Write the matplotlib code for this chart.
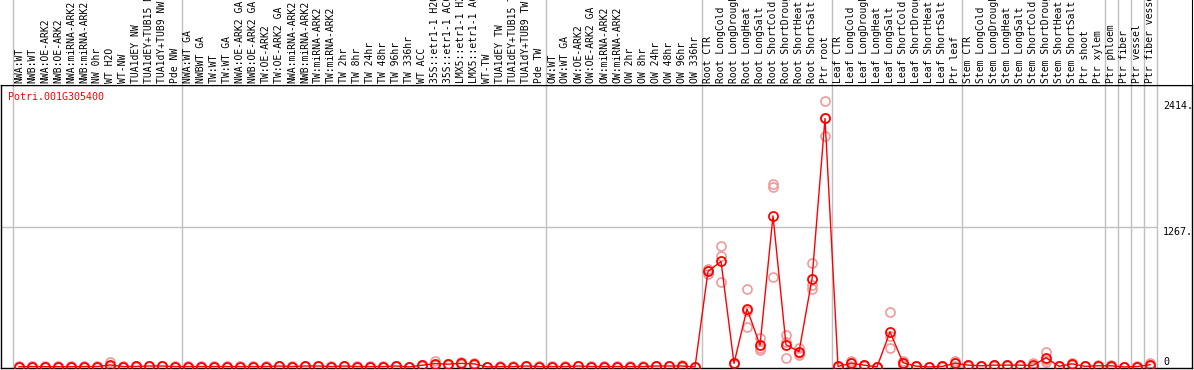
import numpy as np
import matplotlib.pyplot as plt
import matplotlib.transforms as mtrans

# sample names, in plot order
samples = [
    # NW
    "NWA:WT", "NWB:WT", "NWA:OE-ARK2", "NWB:OE-ARK2", "NWA:miRNA-ARK2", "NWB:miRNA-ARK2",
    "NW 0hr", "WT H2O", "WT-NW", "TUA1dEY NW", "TUA1dEY+TUB15 NW", "TUA1dY+TUB9 NW", "Pde NW",
    # TW
    "NWA:WT GA", "NWBWT GA", "TW:WT", "TW:WT GA", "NWA:OE-ARK2 GA", "NWB:OE-ARK2 GA",
    "TW:OE-ARK2", "TW:OE-ARK2 GA", "NWA:miRNA-ARK2", "NWB:miRNA-ARK2", "TW:miRNA-ARK2",
    "TW:miRNA-ARK2", "TW 2hr", "TW 8hr", "TW 24hr", "TW 48hr", "TW 96hr", "TW 336hr",
    "WT ACC", "35S::etr1-1 H2O", "35S::etr1-1 ACC", "LMX5::etr1-1 H2O", "LMX5::etr1-1 ACC",
    "WT-TW", "TUA1dEY TW", "TUA1dEY+TUB15 TW", "TUA1dY+TUB9 TW", "Pde TW",
    # OW
    "OW:WT", "OW:WT GA", "OW:OE-ARK2", "OW:OE-ARK2 GA", "OW:miRNA-ARK2", "OW:miRNA-ARK2",
    "OW 2hr", "OW 8hr", "OW 24hr", "OW 48hr", "OW 96hr", "OW 336hr",
    # root / leaf / stem
    "Root CTR", "Root LongCold", "Root LongDrought", "Root LongHeat", "Root LongSalt",
    "Root ShortCold", "Root ShortDrought", "Root ShortHeat", "Root ShortSalt", "Ptr root",
    "Leaf CTR", "Leaf LongCold", "Leaf LongDrought", "Leaf LongHeat", "Leaf LongSalt",
    "Leaf ShortCold", "Leaf ShortDrought", "Leaf ShortHeat", "Leaf ShortSalt", "Ptr leaf",
    "Stem CTR", "Stem LongCold", "Stem LongDrought", "Stem LongHeat", "Stem LongSalt",
    "Stem ShortCold", "Stem ShortDrought", "Stem ShortHeat", "Stem ShortSalt", "Ptr shoot",
    "Ptr xylem",
    "Ptr phloem", "Ptr fiber", "Ptr vessel", "Ptr fiber vessel",
]
group_sizes = [13, 28, 12, 10, 10, 11, 1, 1, 1, 1]

# replicate expression values
rep1 = ([4, 5, 4, 4, 4, 5, 5, 40, 5, 6, 12, 12, 5]
        + [5, 5, 5, 5, 5, 5, 5, 12, 5, 12, 12, 5, 12, 5, 5, 5, 12, 0, 20, 50, 30, 48, 35, 0, 5, 5, 12, 5]
        + [5, 5, 12, 5, 5, 5, 5, 5, 12, 12, 14, 0]
        + [891, 1100, 25, 708, 264, 1633, 294, 174, 943, 2414]
        + [7, 52, 20, 0, 500, 56, 9, 0, 6, 52]
        + [20, 12, 20, 20, 20, 32, 138, 6, 35, 6, 14]
        + [20, 0, 5, 35])
rep2 = ([2, 3, 2, 2, 2, 3, 3, 10, 3, 4, 8, 8, 3]
        + [3, 3, 3, 3, 3, 3, 3, 8, 3, 8, 8, 3, 8, 3, 3, 3, 8, 0, 15, 20, 25, 25, 28, 0, 3, 3, 8, 3]
        + [3, 3, 8, 3, 3, 3, 3, 3, 8, 8, 8, 0]
        + [867, 1003, 35, 510, 174, 1664, 230, 128, 747, 2255]
        + [5, 37, 16, 0, 279, 38, 7, 0, 4, 32]
        + [16, 10, 16, 16, 16, 5, 64, 5, 28, 5, 10]
        + [10, 0, 3, 20])
rep3 = ([0, 1, 0, 0, 0, 1, 1, 4, 1, 2, 4, 4, 1]
        + [1, 1, 1, 1, 1, 1, 1, 4, 1, 4, 4, 1, 4, 1, 1, 1, 4, 0, 10, 20, 20, 23, 21, 0, 1, 1, 4, 1]
        + [1, 1, 4, 1, 1, 1, 1, 1, 4, 4, 2, 0]
        + [843, 768, 36, 363, 153, 816, 80, 112, 704, 2096]
        + [3, 7, 12, 0, 175, 20, 5, 0, 2, 12]
        + [12, 8, 12, 12, 12, 2, 47, 4, 21, 4, 6]
        + [0, 0, 1, 5])

gene = "Potri.001G305400"
tick_vals = [0, 1267, 2414]
tick_text = ["0", "1267.", "2414."]

reps = np.array([rep1, rep2, rep3], dtype=float)
means = reps.mean(axis=0)
x = np.arange(len(samples))

W, H = 1194, 370
fig = plt.figure(figsize=(W / 100, H / 100), dpi=100)
ax = fig.add_axes([1 / W, 2 / H, 1191 / W, 283 / H])
lab = fig.add_axes([1 / W, 285 / H, 1191 / W, 85 / H], sharex=ax)

grey = "#c0c0c0"
mono = "DejaVu Sans Mono"

ax.set_xlim(-1.385, 90.23)
ax.set_ylim(-10, reps.max() * 1.06)

# group separators
seps = np.concatenate([[-0.5], np.cumsum(group_sizes) - 0.5])
for s in seps:
    ax.axvline(s, color=grey, lw=1, zorder=1)
    lab.axvline(s, color=grey, lw=1, zorder=1)

ax.hlines(tick_vals[1], -1.385, seps[-1], color=grey, lw=1, zorder=1)

for r in reps:
    ax.plot(x, r, ls="none", marker="o", ms=6.5, mfc="none", mec="#f09a9a", mew=1.2, zorder=2)
ax.plot(x, means, color="red", lw=1, marker="o", ms=6.5, mfc="none", mec="red", mew=1.3, zorder=3)

for v, t in zip(tick_vals, tick_text):
    ax.text(88.0, v, t, va="bottom" if v == 0 else "top", ha="left", fontsize=7.2, family=mono)

ax.set_xticks([])
ax.set_yticks([])
for sp in ax.spines.values():
    sp.set_color("black")
    sp.set_linewidth(1)

# sample labels across the top
lab.set_ylim(0, 1)
lab.set_yticks([])
lab.tick_params(axis="x", bottom=False, labelbottom=False)
lab.spines["left"].set_visible(False)
lab.spines["top"].set_visible(False)
tr = mtrans.blended_transform_factory(lab.transData, lab.transAxes)
for i, name in enumerate(samples):
    lab.text(i, 2 / 85, name, rotation=90, ha="center", va="bottom", fontsize=7,
             family=mono, transform=tr, clip_on=True)

fig.text(8 / W, 1 - 97 / H, gene, color="red", va="center", ha="left", fontsize=7.2, family=mono)

fig.savefig("out.png", dpi=100)
